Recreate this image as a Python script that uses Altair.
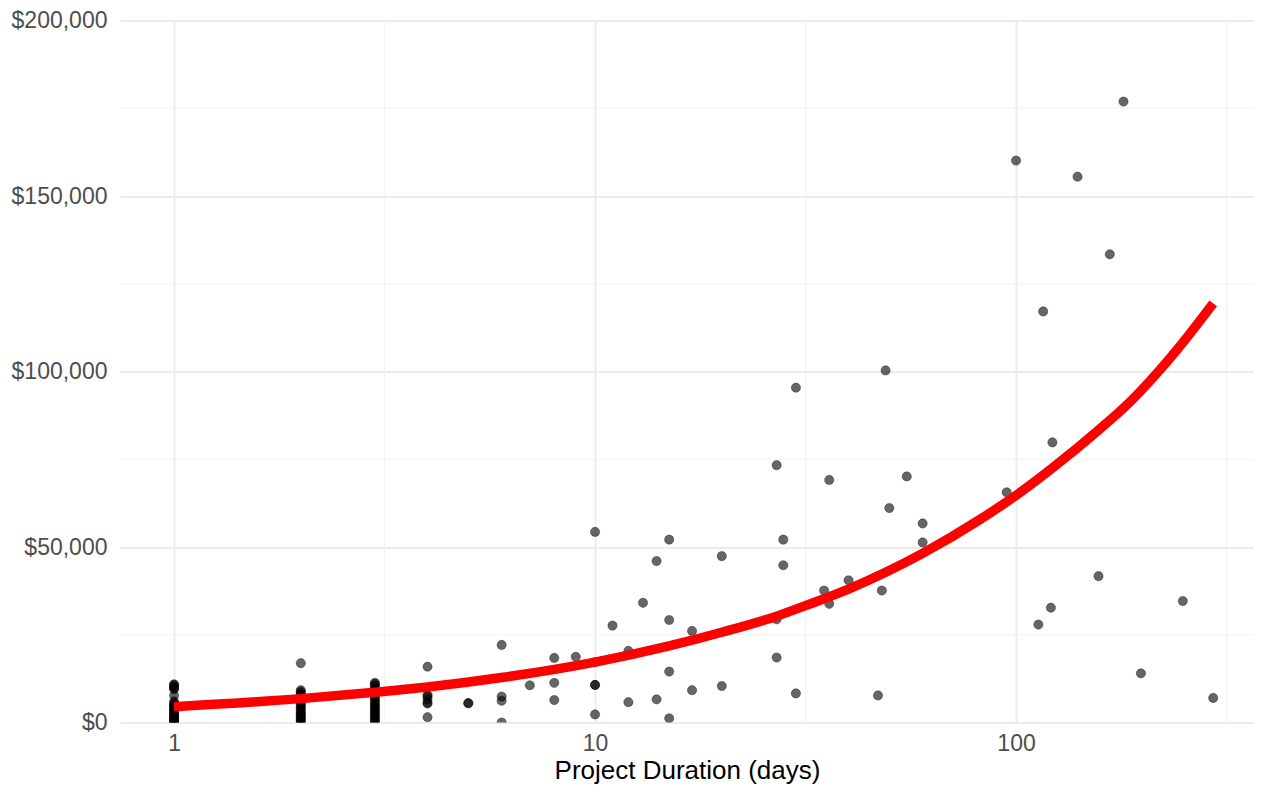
import altair as alt
import pandas as pd

# ---- data ----
days_1 = [1] * 23
cost_1 = [10900, 10700, 10200, 9800, 9500, 7700, 6000, 5500, 5000, 4600, 4200, 3800,
          3400, 3000, 2600, 2200, 1800, 1500, 1200, 900, 600, 300, 100]
days_2 = [2] * 22
cost_2 = [16900, 9200, 8800, 8300, 7800, 7300, 6800, 6300, 5800, 5300, 4800, 4300,
          3800, 3300, 2800, 2400, 2000, 1600, 1200, 800, 400, 100]
days_3 = [3] * 22
cost_3 = [11300, 11000, 10500, 9800, 9200, 8600, 8000, 7400, 6800, 6200, 5600, 5000,
          4500, 4000, 3500, 3000, 2500, 2000, 1500, 1000, 500, 200]
days_rest = [4, 4, 4, 4, 4, 4, 4,
             5, 5,
             6, 6, 6, 6,
             7,
             8, 8, 8,
             9,
             10, 10, 10, 10, 10,
             11,
             12, 12,
             13,
             14, 14,
             15, 15, 15, 15,
             17, 17,
             20, 20,
             27, 27, 27,
             28, 28,
             30, 30,
             35,
             36, 36,
             40, 47, 48, 49, 50, 55,
             60, 60,
             95, 100, 113, 116, 121, 122, 140, 157, 167, 180, 198, 249, 294]
cost_rest = [15900, 7800, 7500, 6600, 5600, 5400, 1500,
             5500, 5500,
             22100, 7400, 6200, 0,
             10600,
             18400, 11300, 6400,
             18700,
             54300, 17200, 10700, 10700, 2300,
             27600,
             20400, 5800,
             34100,
             46000, 6600,
             52100, 29200, 14500, 1200,
             26100, 9200,
             47400, 10400,
             73300, 29400, 18500,
             52100, 44800,
             95400, 8300,
             37600,
             69100, 33800,
             40500, 7700, 37600, 100300, 61100, 70100,
             56700, 51300,
             65600, 160100, 27900, 117100, 32700, 79800, 155500, 41700, 133400,
             176900, 14000, 34600, 7000]

# fitted curve
fit_days = [1, 2, 3, 4, 6, 10, 15, 20, 27, 31.6, 40, 49, 60, 82, 100, 122, 157,
            186, 212, 245, 294]
fit_cost = [4500, 6800, 8600, 10100, 12800, 17200, 21800, 25700, 30300, 33300,
            38000, 42800, 48200, 57800, 64700, 72500, 83300, 91200, 98400, 107200,
            119400]

x_major = [1, 10, 100]
x_minor = [3.1623, 31.623, 316.23]
y_major = [0, 50000, 100000, 150000, 200000]
y_minor = [25000, 75000, 125000, 175000]

points = pd.DataFrame({
    "days": days_1 + days_2 + days_3 + days_rest,
    "cost": cost_1 + cost_2 + cost_3 + cost_rest,
})
fit = pd.DataFrame({"days": fit_days, "cost": fit_cost})

x_dom = [0.744, 367.5]
y_dom = [0, 200000]
grid_major = "#EBEBEB"
grid_minor = "#F2F2F2"

xscale = alt.Scale(type="log", domain=x_dom, nice=False, zero=False)
yscale = alt.Scale(domain=y_dom, nice=False, zero=False)

xaxis = alt.Axis(values=x_major, format="d", title="Project Duration (days)",
                 grid=True, gridColor=grid_major, gridWidth=1.8,
                 ticks=False, tickSize=0, domain=False,
                 labelColor="#4D4D4D", labelFontSize=23, labelPadding=27.5,
                 labelBaseline="alphabetic", labelFont="Liberation Sans",
                 titleColor="#000000", titleFontSize=26, titleFontWeight="normal",
                 titleBaseline="alphabetic", titleY=56,
                 titleFont="Liberation Sans")
yaxis = alt.Axis(values=y_major, format="$,.0f", title=None,
                 grid=True, gridColor=grid_major, gridWidth=1.8,
                 ticks=False, tickSize=0, domain=False,
                 labelColor="#4D4D4D", labelFontSize=23, labelPadding=13,
                 labelFont="Liberation Sans")

vminor = alt.Chart(pd.DataFrame({"days": x_minor})).mark_rule(
    color=grid_minor, strokeWidth=1.2, clip=True).encode(
    x=alt.X("days:Q", scale=xscale, axis=xaxis))
hminor = alt.Chart(pd.DataFrame({"cost": y_minor})).mark_rule(
    color=grid_minor, strokeWidth=1.2).encode(
    y=alt.Y("cost:Q", scale=yscale, axis=yaxis))

pts = alt.Chart(points).mark_point(
    shape="circle", filled=True, fill="black", fillOpacity=0.6,
    stroke="black", strokeOpacity=0.6, strokeWidth=0.6, size=85, clip=True
).encode(
    x=alt.X("days:Q", scale=xscale, axis=xaxis),
    y=alt.Y("cost:Q", scale=yscale, axis=yaxis),
)

line = alt.Chart(fit).mark_line(
    color="#FF0000", strokeWidth=9.5, strokeCap="butt", interpolate="monotone",
    clip=True
).encode(
    x=alt.X("days:Q", scale=xscale, axis=xaxis),
    y=alt.Y("cost:Q", scale=yscale, axis=yaxis),
)

chart = alt.layer(vminor, hminor, pts, line).properties(
    width=1134, height=702, background="white",
    autosize=alt.AutoSizeParams(type="none"),
    padding={"left": 112, "top": 12.5, "right": 0, "bottom": 61.5},
).configure_view(stroke=None)

chart.save("out.html", embed_options={"renderer": "svg", "actions": False})
